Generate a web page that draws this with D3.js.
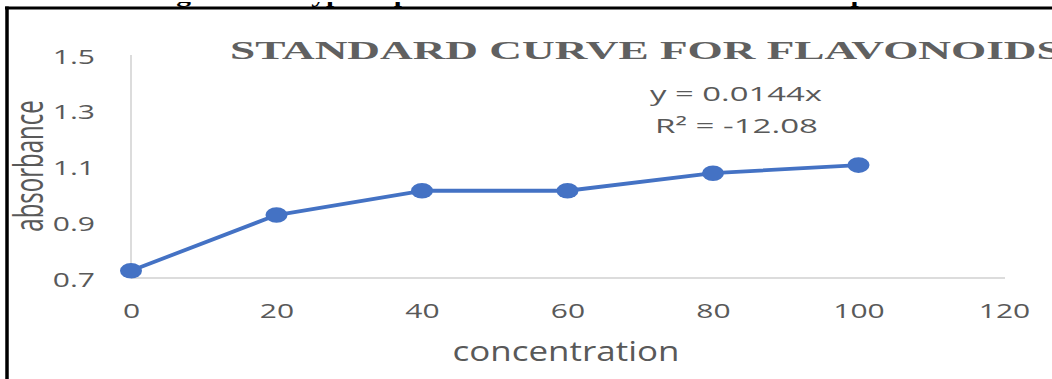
<!DOCTYPE html>
<html>
<head>
<meta charset="utf-8">
<script src="https://cdn.jsdelivr.net/npm/d3@7"></script>
<style>
  html, body { margin: 0; padding: 0; background: #fff; }
  svg { display: block; }
</style>
</head>
<body>
<svg id="chart" width="1052" height="379"></svg>
<script>
// ---- data ----
const concentration = [0, 20, 40, 60, 80, 100];
const absorbance = [0.726, 0.926, 1.013, 1.013, 1.076, 1.105];
const xTickValues = [0, 20, 40, 60, 80, 100, 120];
const yTickValues = [0.7, 0.9, 1.1, 1.3, 1.5];
const chartTitle = "STANDARD CURVE FOR FLAVONOIDS";
const captionText = "Figure 4.3: Typical phenol concentration in various samples";
const equationLines = ["y = 0.0144x", "R² = -12.08"];
const xTitle = "concentration";
const yTitle = "absorbance";

// ---- layout ----
const svg = d3.select("#chart");
const W = 1052, H = 379;
const x = d3.scaleLinear().domain([0, 120]).range([131, 1004]);
const y = d3.scaleLinear().domain([0.7, 1.5]).range([278, 55]);
const gray = "#595959";
const sans = "'Open Sans', 'Noto Sans', sans-serif";
const serif = "'Liberation Serif', 'DejaVu Serif', serif";

svg.append("rect").attr("width", W).attr("height", H).attr("fill", "#fff");

function naturalWidth(txt, font, size, weight) {
  const t = svg.append("text").attr("font-family", font).attr("font-size", size)
    .attr("font-weight", weight || "normal").text(txt);
  const w = t.node().getComputedTextLength();
  t.remove();
  return w;
}

// caption above frame (mostly cut off, as in the source image)
const capW = naturalWidth(captionText, serif, 20, "bold");
svg.append("defs").append("clipPath").attr("id", "capclip")
  .append("rect").attr("x", 0).attr("y", 0).attr("width", W).attr("height", 8);
svg.append("text")
  .attr("clip-path", "url(#capclip)")
  .attr("font-family", serif).attr("font-weight", "bold").attr("font-size", 20)
  .attr("fill", "#000")
  .attr("transform", `translate(150,2) scale(${750 / capW},1)`)
  .text(captionText);

// frame lines
svg.append("line").attr("x1", 5).attr("x2", W).attr("y1", 8).attr("y2", 8)
  .attr("stroke", "#000").attr("stroke-width", 2.8);
svg.append("line").attr("x1", 7).attr("x2", 7).attr("y1", 6.6).attr("y2", H)
  .attr("stroke", "#000").attr("stroke-width", 3.5);

// axes lines
svg.append("line").attr("x1", x(0)).attr("x2", 1005).attr("y1", y(0.7)).attr("y2", y(0.7))
  .attr("stroke", "#d0d0d0").attr("stroke-width", 1.5);
svg.append("line").attr("x1", x(0)).attr("x2", x(0)).attr("y1", y(1.5)).attr("y2", y(0.7))
  .attr("stroke", "#d0d0d0").attr("stroke-width", 1.5);

// x axis tick labels
const kTick = 1.5;
const xAxis = d3.axisBottom(x).tickValues(xTickValues).tickSize(0).tickFormat(d3.format("d"));
const gx = svg.append("g").attr("transform", `translate(0,${y(0.7)})`).call(xAxis);
gx.select(".domain").remove();
gx.selectAll("text")
  .attr("y", 0).attr("dy", null)
  .attr("font-family", sans).attr("font-size", 20).attr("fill", gray)
  .attr("text-anchor", "middle")
  .attr("transform", `translate(0,40) scale(${kTick},1)`);

// y axis tick labels
const yAxis = d3.axisLeft(y).tickValues(yTickValues).tickSize(0).tickFormat(d3.format(".1f"));
const gy = svg.append("g").attr("transform", `translate(${x(0)},0)`).call(yAxis);
gy.select(".domain").remove();
gy.selectAll("text")
  .attr("x", 0).attr("dy", null)
  .attr("font-family", sans).attr("font-size", 20).attr("fill", gray)
  .attr("text-anchor", "end")
  .attr("transform", `translate(-36,8) scale(${kTick},1)`);

// title
const fullW = naturalWidth(chartTitle, serif, 25.5, "bold");
const kTitle = 832 / fullW;
svg.append("text")
  .attr("font-family", serif).attr("font-weight", "bold").attr("font-size", 25.5)
  .attr("fill", "#606060")
  .attr("transform", `translate(230,58.5) scale(${kTitle},1)`)
  .text(chartTitle);

// equation
equationLines.forEach((s, i) => {
  const w = naturalWidth(s, sans, 20);
  const k = (i === 0 ? 172 : 163) / w;
  svg.append("text")
    .attr("font-family", sans).attr("font-size", 20).attr("fill", gray)
    .attr("text-anchor", "middle")
    .attr("transform", `translate(${i === 0 ? 736 : 736.5},${i === 0 ? 100.5 : 132.5}) scale(${k},1)`)
    .text(s);
});

// axis titles
const xtW = naturalWidth(xTitle, sans, 28);
svg.append("text")
  .attr("font-family", sans).attr("font-size", 28).attr("fill", gray)
  .attr("text-anchor", "middle")
  .attr("transform", `translate(566,360.5) scale(${227 / xtW},1)`)
  .text(xTitle);

svg.append("text")
  .attr("font-family", sans).attr("font-size", 24).attr("fill", gray)
  .attr("text-anchor", "middle")
  .attr("transform", `translate(43,166) scale(1.65,1) rotate(-90)`)
  .text(yTitle);

// series
const pts = concentration.map((c, i) => [c, absorbance[i]]);
svg.append("path")
  .datum(pts)
  .attr("fill", "none").attr("stroke", "#4472C4").attr("stroke-width", 3.8)
  .attr("stroke-linejoin", "round")
  .attr("d", d3.line().x(d => x(d[0])).y(d => y(d[1])));
svg.selectAll("ellipse.m").data(pts).enter().append("ellipse")
  .attr("class", "m")
  .attr("cx", d => x(d[0])).attr("cy", d => y(d[1]))
  .attr("rx", 11).attr("ry", 7.8)
  .attr("fill", "#4472C4");
</script>
</body>
</html>
